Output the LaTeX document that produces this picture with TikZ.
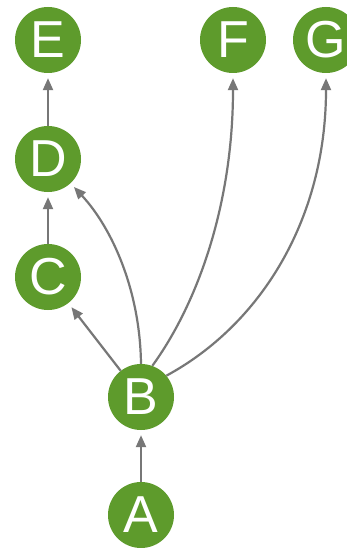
\documentclass[tikz,border=0pt]{standalone}
\usepackage{fontspec}
\setmainfont{Liberation Sans}
\usetikzlibrary{arrows.meta}
\definecolor{nodegreen}{HTML}{5E9B2C}
\definecolor{edgegray}{HTML}{777777}
\begin{document}
\begin{tikzpicture}[x=1pt,y=-1pt,
  vnode/.style={circle,fill=nodegreen,minimum size=66pt,inner sep=0pt,text=white,font=\fontsize{52}{52}\selectfont},
  edge/.style={draw=edgegray,line width=2.2pt,-{Triangle[length=12pt,width=10pt]},shorten >=5pt}]
\useasboundingbox[fill=white] (0,0) rectangle (347,548);
\node[vnode] (E) at (48,40) {E};
\node[vnode] (F) at (233,40) {F};
\node[vnode] (G) at (326,40) {G};
\node[vnode] (D) at (48,159) {D};
\node[vnode] (C) at (48,277) {C};
\node[vnode] (B) at (141,397) {B};
\node[vnode] (A) at (141,515) {A};
\draw[edge] (A) -- (B);
\draw[edge] (B) -- (C);
\draw[edge] (C) -- (D);
\draw[edge] (D) -- (E);
\draw[edge] (B.north) .. controls (140,290) and (112,228) .. (D);
\draw[edge] (B.70) .. controls (200,300) and (233,200) .. (F);
\draw[edge] (B.40) .. controls (260,325) and (326,220) .. (G);
\end{tikzpicture}
\end{document}
